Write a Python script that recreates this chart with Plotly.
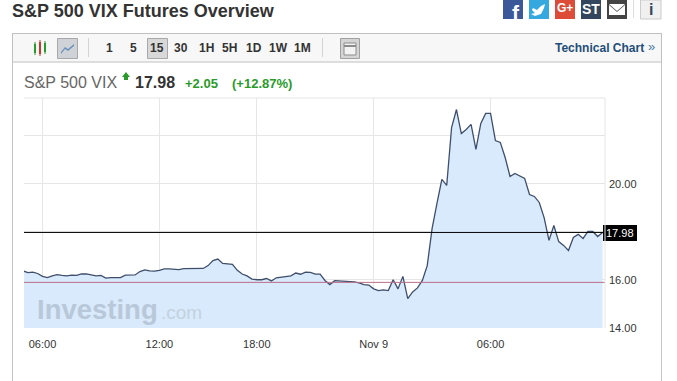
import plotly.graph_objects as go

bars = list(range(120))
vix = [16.38,16.31,16.33,16.27,16.15,16.10,16.17,16.22,16.19,16.17,
       16.20,16.19,16.25,16.25,16.21,16.17,16.19,16.08,16.10,16.10,
       16.10,16.20,16.21,16.21,16.35,16.42,16.38,16.37,16.40,16.46,
       16.46,16.43,16.43,16.47,16.48,16.48,16.48,16.48,16.60,16.81,
       16.87,16.69,16.67,16.65,16.40,16.25,16.17,16.04,16.01,16.01,
       16.06,15.96,16.09,16.12,16.15,16.17,16.29,16.24,16.33,16.32,
       16.24,16.24,15.98,15.81,15.97,15.96,15.95,15.94,15.92,15.88,
       15.81,15.79,15.63,15.56,15.59,15.56,16.01,15.63,16.15,15.22,
       15.50,15.67,15.98,16.60,18.15,19.19,20.19,19.94,22.35,23.10,
       22.10,22.27,22.48,21.44,22.52,22.94,22.94,21.81,21.73,21.10,
       20.31,20.44,20.35,20.23,19.56,19.48,19.23,18.60,17.65,18.27,
       17.60,17.44,17.23,17.77,17.90,17.73,18.02,18.02,17.81,17.98]
x_ticks = [4, 28, 48, 72, 96]
x_labels = ["06:00", "12:00", "18:00", "Nov 9", "06:00"]
y_ticks = [14, 16, 18, 20, 22]
y_labels = ["14.00", "16.00", "", "20.00", ""]
last_price = 17.98
prev_close = 15.9
intervals = ["1", "5", "15", "30", "1H", "5H", "1D", "1W", "1M"]
interval_x = [109, 133, 157, 181, 206, 229, 254, 278, 302]

L, R, T, B = 24, 605, 98, 328
W, H = 677, 381
def px(v): return (v - L) / (R - L)
def py(v): return (B - v) / (B - T)

fig = go.Figure()
fig.add_trace(go.Scatter(x=bars, y=vix, mode="lines", fill="tozeroy",
                         fillcolor="#d8eafc",
                         line=dict(color="#3f4e6b", width=1.3), hoverinfo="skip"))

shapes, ann = [], []
def rect(x0, y0, x1, y1, fill=None, line=None, lw=1, layer="above"):
    shapes.append(dict(type="rect", xref="paper", yref="paper",
                       x0=px(x0), x1=px(x1), y0=py(y0), y1=py(y1), layer=layer,
                       fillcolor=fill or "rgba(0,0,0,0)",
                       line=dict(color=line or "rgba(0,0,0,0)", width=lw if line else 0)))
def seg(x0, y0, x1, y1, color, lw=1, layer="above"):
    shapes.append(dict(type="line", xref="paper", yref="paper",
                       x0=px(x0), x1=px(x1), y0=py(y0), y1=py(y1), layer=layer,
                       line=dict(color=color, width=lw)))
def path(pts, fill, line=None):
    d = "M " + " L ".join(f"{px(a):.5f},{py(b):.5f}" for a, b in pts) + " Z"
    shapes.append(dict(type="path", xref="paper", yref="paper", path=d, fillcolor=fill,
                       line=dict(color=line or "rgba(0,0,0,0)", width=1 if line else 0)))
def text(x, y, s, size, color, bold=False, anchor="left", font="Liberation Sans"):
    ann.append(dict(xref="paper", yref="paper", x=px(x), y=py(y), text=f"<b>{s}</b>" if bold else s,
                    showarrow=False, xanchor=anchor, yanchor="middle", borderpad=0, borderwidth=0,
                    font=dict(size=size, color=color, family=font)))

# panel frame and toolbar
seg(12.5, 33, 12.5, 381, "#c4c4c4")
seg(661.5, 33, 661.5, 381, "#c4c4c4")
rect(12.5, 33.5, 661.5, 62, fill="#f7f7f7", line="#c0c0c0")
rect(57.5, 38.5, 77.5, 58.5, fill="#cfd3d8", line="#a8a8a8")
path([(61, 52), (65, 47), (68, 49), (74, 44), (74, 46), (68, 51), (65, 49), (61, 54)], "#6f92ba")
rect(147.5, 38.5, 167.5, 58.5, fill="#d8d8d8", line="#a8a8a8")
seg(88.5, 38, 88.5, 57, "#d4d4d4")
seg(322.5, 38, 322.5, 57, "#d4d4d4")
rect(340.5, 38.5, 359.5, 58.5, fill="#d4d4d4", line="#a0a0a0")
rect(344, 43, 356, 55, fill="#f2f2f2", line="#8c8c8c")
seg(344, 46, 356, 46, "#8c8c8c", 2)
# candle icon
for cx, c, top, bot in [(35, "#2a9a2a", 44, 53), (40, "#c8392b", 42, 54), (45, "#2a9a2a", 43, 52)]:
    seg(cx, top - 2, cx, bot + 2, c)
    rect(cx - 1, top, cx + 1, bot, fill=c)
for lab, xx in zip(intervals, interval_x):
    text(xx, 48, lab, 12, "#333333", bold=True, anchor="center")
text(555, 47.5, "Technical Chart", 12, "#1f4e79", bold=True)
text(648, 47, "»", 13, "#4a7aa8")

# header
text(12, 10.5, "S&P 500 VIX Futures Overview", 18, "#333333", bold=True)
for x0, c in [(503, "#3b5998"), (529, "#35a8e0"), (555, "#dd4b39"), (581, "#34465d"), (607, "#444444")]:
    rect(x0, 0, x0 + 20, 19, fill=c)
text(516, 12.5, "f", 21, "#ffffff", bold=True, anchor="center")
path([(533, 8), (537, 10), (541, 6), (545, 4), (544, 8), (541, 14), (535, 16), (531, 14), (535, 13), (532, 10)], "#ffffff")
text(565, 8.5, "G+", 12, "#ffffff", bold=True, anchor="center")
text(591, 9.5, "ST", 14, "#ffffff", bold=True, anchor="center")
rect(609, 4, 625, 15, fill="#ffffff")
path([(609, 4), (617, 11), (625, 4), (625, 5), (617, 12), (609, 5)], "#555555")
seg(633.5, 0, 633.5, 18, "#dddddd")
rect(640.5, 0, 661, 19, fill="#f0f0f0", line="#cccccc")
text(651, 9.5, "i", 16, "#34465d", bold=True, anchor="center")

# quote line
text(24, 83, "S&P 500 VIX", 16, "#666666")
path([(122, 77), (126, 72), (130, 77), (128, 77), (128, 80), (124, 80), (124, 77)], "#2a9a2a")
text(135, 83, "17.98", 16, "#333333", bold=True)
text(185, 83.5, "+2.05", 13, "#2a9a2a", bold=True)
text(232, 83.5, "(+12.87%)", 13, "#2a9a2a", bold=True)

# watermark
text(37, 309, "Investing", 27.5, "#b9c8d9", bold=True)
text(161, 312, ".com", 19, "#c4d2e0")

# reference lines and last-price tag
shapes.append(dict(type="line", xref="paper", yref="y", x0=0, x1=1, y0=prev_close, y1=prev_close,
                   line=dict(color="#bb6f88", width=1)))
shapes.append(dict(type="line", xref="paper", yref="y", x0=0, x1=1, y0=last_price, y1=last_price,
                   line=dict(color="#000000", width=1)))
rect(603, 225, 637, 241, fill="#000000")
text(620, 233, "17.98", 11, "#ffffff", anchor="center")

fig.update_layout(
    width=W, height=H, autosize=False, showlegend=False,
    margin=dict(l=L, r=W - R, t=T, b=H - B, pad=0),
    paper_bgcolor="#ffffff", plot_bgcolor="#ffffff",
    font=dict(family="Liberation Sans", size=11, color="#333333"),
    shapes=shapes, annotations=ann,
    xaxis=dict(range=[0.2, 119.5], tickmode="array", tickvals=x_ticks, ticktext=x_labels,
               showgrid=True, gridcolor="#e6e6e6", gridwidth=1, zeroline=False, showline=False,
               ticks="", tickfont=dict(size=11, color="#333333"), ticklabelstandoff=8),
    yaxis=dict(range=[14, 23.58], side="right", tickmode="array", tickvals=y_ticks, ticktext=y_labels,
               showgrid=True, gridcolor="#e6e6e6", gridwidth=1, zeroline=False, showline=False,
               ticks="", tickfont=dict(size=11, color="#333333"), ticklabelstandoff=3),
)
seg(24, 98, 605, 98, "#e6e6e6")
seg(605, 98, 605, 328, "#e6e6e6")
fig.update_layout(shapes=shapes)
fig.write_html("out.html", config=dict(displayModeBar=False, responsive=False),
               post_script="document.body.style.margin='0';")
